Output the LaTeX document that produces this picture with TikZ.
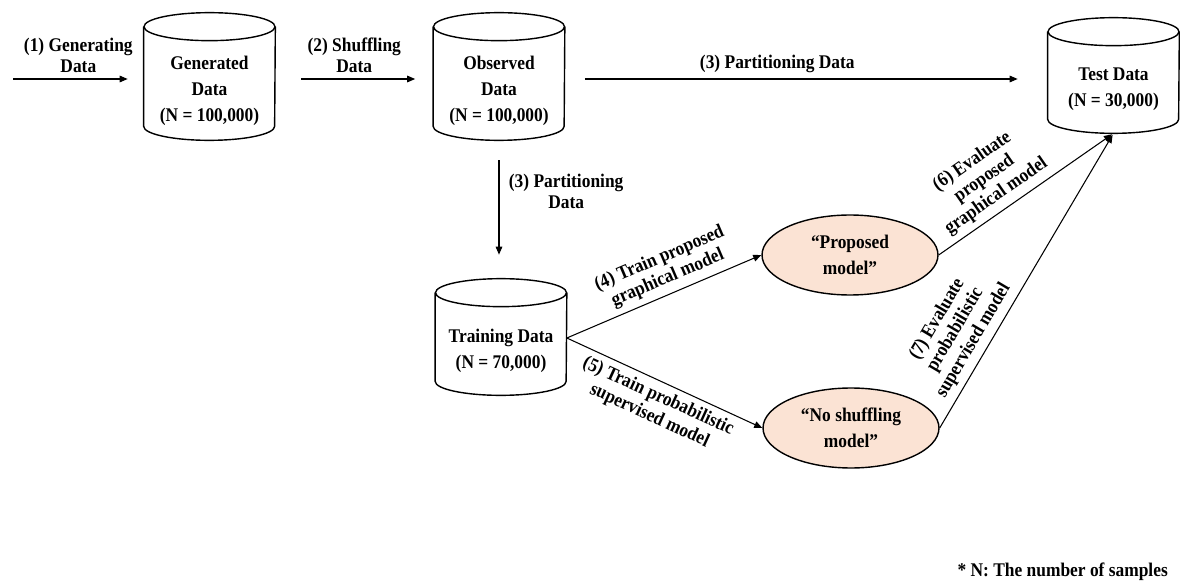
\documentclass[tikz,border=0pt]{standalone}
\usepackage{fontspec}
\setmainfont{Liberation Serif}[FakeStretch=0.9]
\usetikzlibrary{arrows.meta,shapes.geometric}
\definecolor{modelfill}{HTML}{FBE3D4}

\newcommand{\boxfont}{\bfseries\fontsize{11}{14.8}\selectfont}
\newcommand{\stepfont}{\bfseries\fontsize{11}{12}\selectfont}
\newcommand{\cylrx}{1.31cm}
\newcommand{\cylry}{0.28cm}

\begin{document}
\begin{tikzpicture}[x=0.02cm,y=-0.02cm,>={Triangle[length=4.6pt,width=3.8pt]},
  every node/.style={font=\stepfont},
  store/.style={minimum width=2.62cm, inner sep=0pt, align=center, font=\boxfont},
  model/.style={ellipse, draw, line width=0.8pt, fill=modelfill, minimum width=3.52cm,
    minimum height=1.6cm, inner sep=0pt, align=center, font=\boxfont},
  flow/.style={->, line width=0.6pt},
  lbl/.style={align=center}]
  \useasboundingbox (0,0) rectangle (1180,584);
  % data sets
  \node[store, minimum height=1.98cm] (gen) at (209.5,90.5) {Generated\\Data\\(N = 100,000)};
  \node[store, minimum height=1.98cm] (obs) at (499,90.5) {Observed\\Data\\(N = 100,000)};
  \node[store, minimum height=1.76cm] (train) at (501,351) {Training Data\\(N = 70,000)};
  \node[store, minimum height=1.74cm] (test) at (1113.5,89.5) {Test Data\\(N = 30,000)};
  \foreach \n in {gen,obs,train,test}{
    \draw[line width=0.8pt] ([yshift=\cylry]\n.north) ellipse[x radius=\cylrx, y radius=\cylry];
    \draw[line width=0.8pt] ([yshift=\cylry]\n.north west) -- ([yshift=\cylry]\n.south west)
      arc[start angle=180, end angle=360, x radius=\cylrx, y radius=\cylry]
      -- ([yshift=\cylry]\n.north east);
  }
  % models
  \node[model] (prop) at (850,255) {“Proposed\\model”};
  \node[model] (noshuf) at (851,428) {“No shuffling\\model”};
  % steps
  \coordinate (start) at (13,79);
  \draw[flow, shorten >=0.32cm] (start) -- (start -| gen.west)
    node[midway, above, lbl] {(1) Generating\\Data};
  \draw[flow, shorten <=0.52cm, shorten >=0.36cm] (start -| gen.east) -- (start -| obs.west)
    node[midway, above, lbl] {(2) Shuffling\\Data};
  \draw[flow, shorten <=0.4cm, shorten >=0.6cm] (start -| obs.east) -- (start -| test.west)
    node[pos=0.44, above] {(3) Partitioning Data};
  \draw[flow, shorten <=0.4cm, shorten >=0.48cm] (obs.south) -- ([yshift=0.56cm]obs.south |- train.north)
    node[pos=0.37, right, xshift=2pt, lbl] {(3) Partitioning\\Data};
  \draw[flow] ([yshift=0.26cm]train.east) -- (prop.west)
    node[pos=0.55, above, sloped, lbl] {(4) Train proposed\\graphical model};
  \draw[flow] ([yshift=0.26cm]train.east) -- (noshuf.west)
    node[pos=0.5, below, sloped, lbl] {(5) Train probabilistic\\supervised model};
  \draw[flow, shorten >=1pt] (prop.east) -- (test.south)
    node[pos=0.38, above, sloped, lbl] {(6) Evaluate\\proposed\\graphical model};
  \draw[flow, shorten >=1pt] (noshuf.east) -- (test.south)
    node[pos=0.27, above, sloped, lbl] {(7) Evaluate\\probabilistic\\supervised model};
  \node[anchor=east] (note) at (1174,572) {* N: The number of samples};
\end{tikzpicture}
\end{document}
